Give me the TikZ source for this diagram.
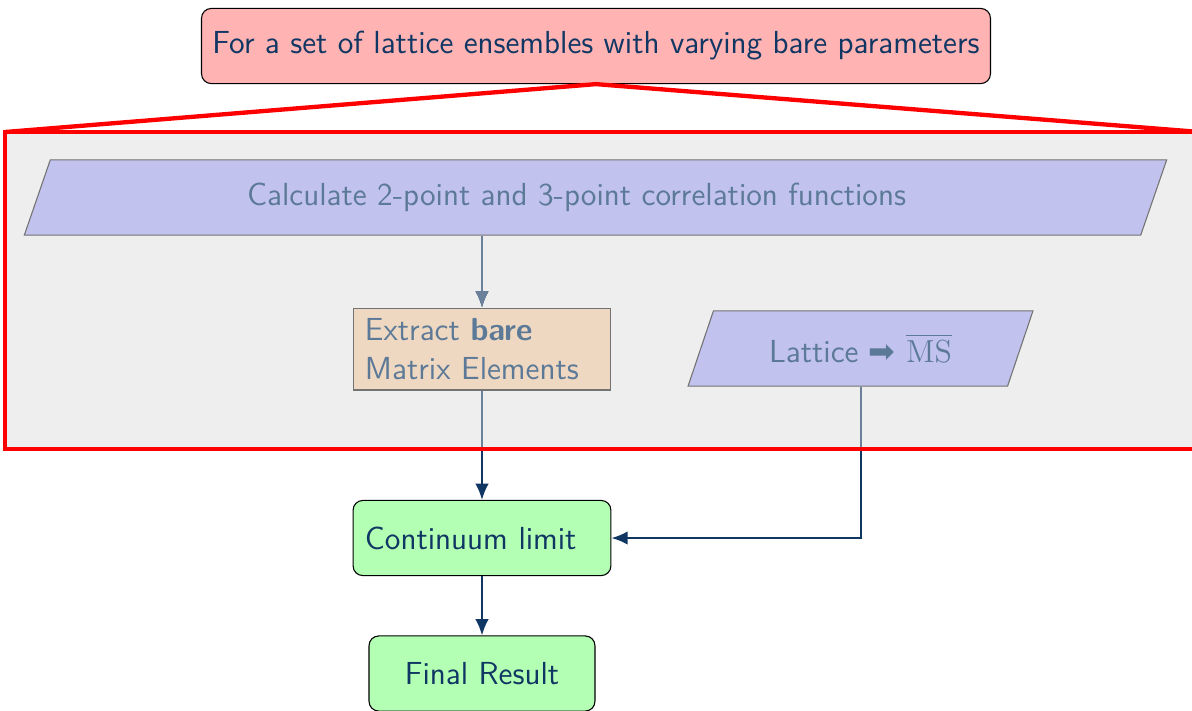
\documentclass[tikz,border=0pt]{standalone}
\usepackage{fontspec}
\newfontfamily\dejavu{DejaVu Sans}
\usepackage{amsmath}
\usetikzlibrary{arrows.meta,shapes.geometric,backgrounds}

\definecolor{navy}{RGB}{16,54,99}
\definecolor{fadetext}{RGB}{92,122,152}
\definecolor{fadearrow}{RGB}{107,129,155}
\definecolor{pinkfill}{RGB}{255,179,179}
\definecolor{lavender}{RGB}{193,194,238}
\definecolor{peach}{RGB}{239,216,193}
\definecolor{mint}{RGB}{179,255,179}
\definecolor{panel}{RGB}{238,238,238}

\tikzset{
  every picture/.style={line join=miter},
}

\begin{document}
\begin{tikzpicture}[x=0.37pt, y=-0.37pt,
  every node/.style={font=\sffamily\fontsize{11.8}{14.2}\selectfont},
  startbox/.style={draw=black, fill=pinkfill, text=navy, rounded corners=3.6pt,
    minimum width=291.9pt, minimum height=27.8pt},
  iobox/.style={draw=black!55, fill=lavender, text=fadetext, trapezium,
    trapezium left angle=70, trapezium right angle=110, trapezium stretches=true,
    minimum height=27.8pt},
  procbox/.style={draw=black!55, fill=peach, text=fadetext, text width=86.6pt,
    align=left, inner xsep=4.4pt, minimum height=30.3pt},
  resultbox/.style={draw=black, fill=mint, text=navy, rounded corners=3.6pt,
    minimum height=27.8pt},
  flow/.style={-{Latex[length=6pt,width=5pt]}, line width=0.75pt, draw=navy},
  flowfade/.style={flow, draw=fadearrow},
  frame/.style={draw=red, line width=1.6pt}]

\clip (0,0) rectangle (1192,710);

%% Nodes
\node[startbox] (ensembles) at (596,46)
  {For a set of lattice ensembles with varying bare parameters};
\node[iobox, minimum width=423.7pt] (corr) at (595.5,197.5)
  {Calculate 2-point and 3-point correlation functions\hspace*{14pt}};
\node[procbox] (bare) at (482,349)
  {Extract \textbf{bare}\\Matrix Elements};
\node[iobox, minimum width=128.4pt] (renorm) at (860.5,348.5)
  {Lattice {\dejavu ➡} $\overline{\mathrm{MS}}$};
\node[resultbox, text width=86.6pt, align=left, inner xsep=4.4pt] (contlim) at (482,538)
  {Continuum limit};
\node[resultbox, minimum width=83.6pt] (final) at (482,673.5)
  {Final Result};

%% Connectors
\draw[flow] (corr.south -| bare.north) -- (bare.north);
\draw[flow] (bare) -- (contlim);
\draw[flow] (renorm.south) |- (contlim.east);
\draw[flow] (contlim) -- (final);

%% Inside the panel the same lines are drawn paler
\begin{scope}
  \clip (5,132) rectangle (1200,449);
  \draw[flowfade] (corr.south -| bare.north) -- (bare.north);
  \draw[flowfade] (bare) -- (contlim);
  \draw[flowfade] (renorm.south) |- (contlim.east);
\end{scope}

%% Panel for every ensemble
\begin{scope}[on background layer]
  \fill[panel] (5,132) rectangle (1200,449);
\end{scope}
\draw[frame] (5,132) rectangle (1200,449);
\draw[frame] (5,132) -- (ensembles.south) -- (1200,132);

\end{tikzpicture}
\end{document}
